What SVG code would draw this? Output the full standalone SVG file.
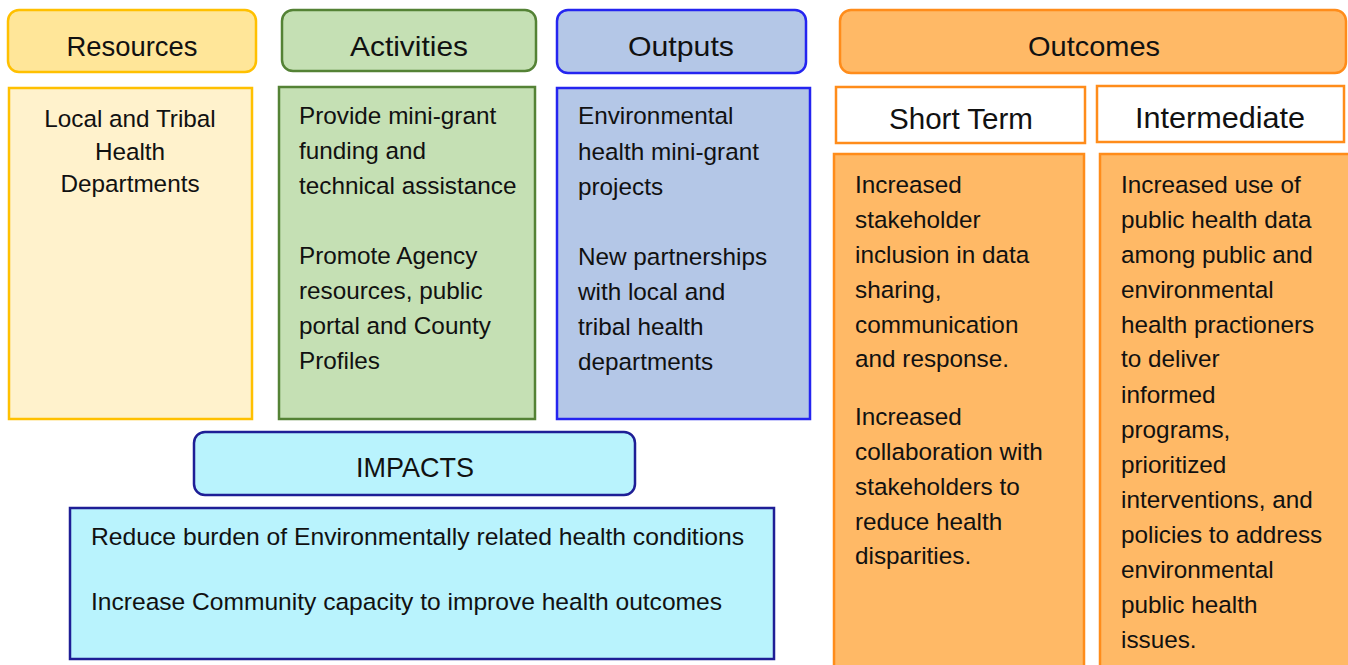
<svg xmlns="http://www.w3.org/2000/svg" width="1348" height="665" viewBox="0 0 1348 665">
  <style>
    text { font-family: "Liberation Sans", Arial, sans-serif; fill: #111; dominant-baseline: central; }
    .hd { font-size: 28px; text-anchor: middle; }
    .sub { font-size: 29px; text-anchor: middle; }
    .bd { font-size: 24.3px; }
    .ctr { text-anchor: middle; }
    .res-h { fill: #FFE699; stroke: #FFC000; stroke-width: 2.5; }
    .res-b { fill: #FFF2CC; stroke: #FFC000; stroke-width: 2.5; }
    .act { fill: #C5E0B4; stroke: #548235; stroke-width: 2.5; }
    .out { fill: #B4C7E7; stroke: #2424F0; stroke-width: 2.5; }
    .otc { fill: #FFB966; stroke: #FF8C1A; stroke-width: 2.5; }
    .otc-w { fill: #FFFFFF; stroke: #FF8C1A; stroke-width: 2.5; }
    .imp { fill: #B9F3FD; stroke: #1E1E96; stroke-width: 2.5; }
  </style>

  <rect width="1348" height="665" fill="#FFFFFF"/>

  <!-- Resources column -->
  <g id="resources">
    <rect class="res-h" x="8" y="10" width="248" height="62" rx="11"/>
    <text class="hd" x="132" y="46" textLength="131" lengthAdjust="spacingAndGlyphs">Resources</text>
  </g>
  <g id="resources-body">
    <rect class="res-b" x="9" y="88" width="243" height="331"/>
    <text class="bd ctr" x="130" y="118">Local and Tribal</text>
    <text class="bd ctr" x="130" y="151">Health</text>
    <text class="bd ctr" x="130" y="183">Departments</text>
  </g>

  <!-- Activities column -->
  <g id="activities">
    <rect class="act" x="282" y="10" width="254" height="61" rx="11"/>
    <text class="hd" x="409" y="46" textLength="118" lengthAdjust="spacingAndGlyphs">Activities</text>
  </g>
  <g id="activities-body">
    <rect class="act" x="279" y="87" width="256" height="332"/>
    <text class="bd" x="299" y="115">Provide mini-grant</text>
    <text class="bd" x="299" y="150">funding and</text>
    <text class="bd" x="299" y="185">technical assistance</text>
    <text class="bd" x="299" y="255">Promote Agency</text>
    <text class="bd" x="299" y="290">resources, public</text>
    <text class="bd" x="299" y="325">portal and County</text>
    <text class="bd" x="299" y="360">Profiles</text>
  </g>

  <!-- Outputs column -->
  <g id="outputs">
    <rect class="out" x="557" y="10" width="249" height="63" rx="11"/>
    <text class="hd" x="681" y="46" textLength="106" lengthAdjust="spacingAndGlyphs">Outputs</text>
  </g>
  <g id="outputs-body">
    <rect class="out" x="557" y="88" width="253" height="331"/>
    <text class="bd" x="578" y="115">Environmental</text>
    <text class="bd" x="578" y="151">health mini-grant</text>
    <text class="bd" x="578" y="186">projects</text>
    <text class="bd" x="578" y="256">New partnerships</text>
    <text class="bd" x="578" y="291">with local and</text>
    <text class="bd" x="578" y="326">tribal health</text>
    <text class="bd" x="578" y="361">departments</text>
  </g>

  <!-- Outcomes column -->
  <g id="outcomes">
    <rect class="otc" x="840" y="10" width="506" height="63" rx="11"/>
    <text class="hd" x="1094" y="46" textLength="132" lengthAdjust="spacingAndGlyphs">Outcomes</text>
  </g>
  <g id="short-term">
    <rect class="otc-w" x="836" y="87" width="249" height="56"/>
    <text class="sub" x="961" y="119" textLength="144" lengthAdjust="spacingAndGlyphs">Short Term</text>
  </g>
  <g id="intermediate">
    <rect class="otc-w" x="1097" y="86" width="247" height="56"/>
    <text class="sub" x="1220" y="118" textLength="170" lengthAdjust="spacingAndGlyphs">Intermediate</text>
  </g>
  <g id="short-term-body">
    <rect class="otc" x="834" y="154" width="250" height="520"/>
    <text class="bd" x="855" y="184">Increased</text>
    <text class="bd" x="855" y="219">stakeholder</text>
    <text class="bd" x="855" y="254">inclusion in data</text>
    <text class="bd" x="855" y="289">sharing,</text>
    <text class="bd" x="855" y="324">communication</text>
    <text class="bd" x="855" y="358">and response.</text>
    <text class="bd" x="855" y="416">Increased</text>
    <text class="bd" x="855" y="451">collaboration with</text>
    <text class="bd" x="855" y="486">stakeholders to</text>
    <text class="bd" x="855" y="521">reduce health</text>
    <text class="bd" x="855" y="555">disparities.</text>
  </g>
  <g id="intermediate-body">
    <rect class="otc" x="1100" y="154" width="252" height="520"/>
    <text class="bd" x="1121" y="184">Increased use of</text>
    <text class="bd" x="1121" y="219">public health data</text>
    <text class="bd" x="1121" y="254">among public and</text>
    <text class="bd" x="1121" y="289">environmental</text>
    <text class="bd" x="1121" y="324">health practioners</text>
    <text class="bd" x="1121" y="358">to deliver</text>
    <text class="bd" x="1121" y="394">informed</text>
    <text class="bd" x="1121" y="429">programs,</text>
    <text class="bd" x="1121" y="464">prioritized</text>
    <text class="bd" x="1121" y="499">interventions, and</text>
    <text class="bd" x="1121" y="534">policies to address</text>
    <text class="bd" x="1121" y="569">environmental</text>
    <text class="bd" x="1121" y="604">public health</text>
    <text class="bd" x="1121" y="639">issues.</text>
  </g>

  <!-- Impacts -->
  <g id="impacts">
    <rect class="imp" x="194" y="432" width="441" height="63" rx="11"/>
    <text class="hd" x="415" y="467" textLength="118" lengthAdjust="spacingAndGlyphs">IMPACTS</text>
  </g>
  <g id="impacts-body">
    <rect class="imp" x="70" y="508" width="704" height="151"/>
    <text class="bd" x="91" y="536" textLength="653" lengthAdjust="spacingAndGlyphs">Reduce burden of Environmentally related health conditions</text>
    <text class="bd" x="91" y="601" textLength="631" lengthAdjust="spacingAndGlyphs">Increase Community capacity to improve health outcomes</text>
  </g>

  <g id="connectors"/>
</svg>
